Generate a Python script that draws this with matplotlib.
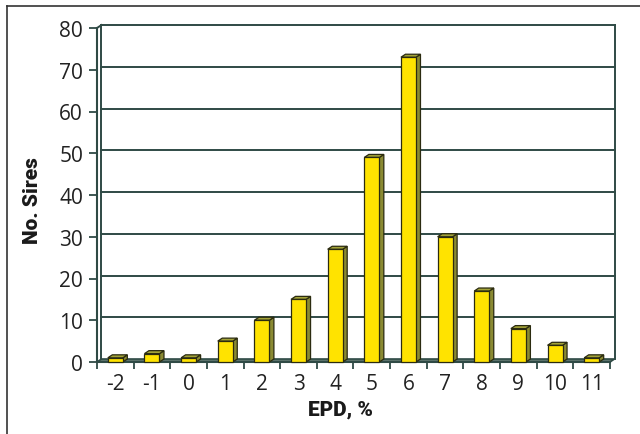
import matplotlib
matplotlib.use("Agg")
import matplotlib.pyplot as plt
from matplotlib.patches import Polygon, Rectangle
from matplotlib.lines import Line2D

plt.rcParams["axes.unicode_minus"] = False

categories = [-2, -1, 0, 1, 2, 3, 4, 5, 6, 7, 8, 9, 10, 11]
sires = [1, 2, 1, 5, 10, 15, 27, 49, 73, 30, 17, 8, 4, 1]
yticks = [0, 10, 20, 30, 40, 50, 60, 70, 80]
xlabel = "EPD, %"
ylabel = "No. Sires"

FW, FH = 640, 435
fig = plt.figure(figsize=(FW / 100, FH / 100), dpi=100)
L, R, T, B = 97, 610, 29, 363
ax = fig.add_axes([L / FW, (FH - B) / FH, (R - L) / FW, (B - T) / FH])
xmin, xmax = categories[0] - 0.5, categories[-1] + 0.5
ax.set_xlim(xmin, xmax)
ax.set_ylim(0, 80)

px_x = (R - L) / (xmax - xmin)
px_y = (B - T) / 80
DX = 4.5 / px_x
DY = 3.0 / px_y

grid_c = "#2F4A45"
for y in yticks[1:]:
    ax.add_line(Line2D([xmin + DX, xmax + DX], [y + DY, y + DY], color=grid_c, lw=1.4, clip_on=False, zorder=1))
ax.add_line(Line2D([xmin + DX, xmin + DX], [DY, 80 + DY], color=grid_c, lw=1.4, clip_on=False, zorder=1))
ax.add_line(Line2D([xmax + DX, xmax + DX], [DY, 80 + DY], color=grid_c, lw=1.4, clip_on=False, zorder=1))
ax.add_line(Line2D([xmin, xmin + DX], [80, 80 + DY], color=grid_c, lw=1.4, clip_on=False, zorder=1))
floor = Polygon([(xmin, 0), (xmin + DX, DY), (xmax + DX, DY), (xmax, 0)], closed=True,
                facecolor="#5E746D", edgecolor=grid_c, lw=1.2, clip_on=False, zorder=1)
ax.add_patch(floor)

w = 0.41
front_c = "#FFE300"
side_c = "#8A8A33"
top_c = "#A3A338"
edge_c = "#2B2B10"
for x, h in zip(categories, sires):
    x0, x1 = x - w / 2, x + w / 2
    ax.add_patch(Polygon([(x1, 0), (x1 + DX, DY), (x1 + DX, h + DY), (x1, h)], closed=True,
                         facecolor=side_c, edgecolor=edge_c, lw=0.9, clip_on=False, zorder=3))
    ax.add_patch(Polygon([(x0, h), (x0 + DX, h + DY), (x1 + DX, h + DY), (x1, h)], closed=True,
                         facecolor=top_c, edgecolor=edge_c, lw=0.9, clip_on=False, zorder=3))
    ax.add_patch(Rectangle((x0, 0), w, h, facecolor=front_c, edgecolor=edge_c, lw=0.9,
                           clip_on=False, zorder=4))

for s in ["top", "right"]:
    ax.spines[s].set_visible(False)
for s in ["left", "bottom"]:
    ax.spines[s].set_color(grid_c)
    ax.spines[s].set_linewidth(1.5)
    ax.spines[s].set_zorder(2)

ax.set_yticks(yticks)
ax.set_xticks(categories)
ax.set_xticks([c - 0.5 for c in categories] + [xmax], minor=True)
ax.tick_params(axis="x", which="major", length=0, pad=8)
ax.tick_params(axis="x", which="minor", length=5, width=1.3, color=grid_c)
ax.tick_params(axis="y", length=6, width=1.3, color=grid_c, pad=4)

for lab in ax.get_xticklabels() + ax.get_yticklabels():
    lab.set_fontfamily(["Open Sans", "DejaVu Sans"])
    lab.set_fontsize(15)
    lab.set_color("#222222")

label_font = dict(family=["Roboto", "DejaVu Sans"], weight="black", size=15, color="#1a1a1a")
fig.text(340 / FW, 1 - 410 / FH, xlabel, ha="center", va="center", **label_font)
fig.text(33 / FW, 1 - 201 / FH, ylabel, ha="center", va="center", rotation=90, **label_font)

fig.add_artist(Line2D([7 / FW, 1], [1 - 7 / FH, 1 - 7 / FH], transform=fig.transFigure, color="#333333", lw=1.2))
fig.add_artist(Line2D([7 / FW, 7 / FW], [0, 1 - 7 / FH], transform=fig.transFigure, color="#333333", lw=1.2))

fig.savefig("out.png", dpi=100)
